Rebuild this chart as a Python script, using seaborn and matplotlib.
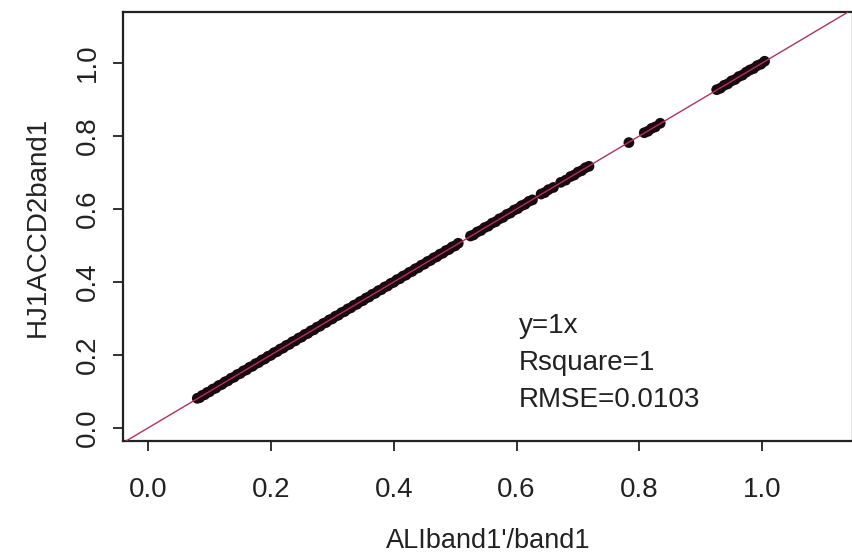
import matplotlib
matplotlib.use("Agg")
import matplotlib.pyplot as plt
import seaborn as sns
import pandas as pd

# ---- data ----
x_vals = [0.080, 0.084, 0.088, 0.092, 0.096, 0.100, 0.105, 0.110, 0.115, 0.120,
          0.125, 0.130, 0.135, 0.140, 0.145, 0.150, 0.155, 0.160, 0.165, 0.170,
          0.175, 0.180, 0.185, 0.190, 0.195, 0.200, 0.205, 0.210, 0.215, 0.220,
          0.225, 0.230, 0.235, 0.240, 0.245, 0.250, 0.255, 0.260, 0.265, 0.270,
          0.275, 0.280, 0.285, 0.290, 0.295, 0.300, 0.305, 0.310, 0.315, 0.320,
          0.325, 0.330, 0.335, 0.340, 0.345, 0.350, 0.355, 0.360, 0.365, 0.370,
          0.375, 0.380, 0.385, 0.390, 0.395, 0.400, 0.405, 0.410, 0.415, 0.420,
          0.425, 0.430, 0.435, 0.440, 0.445, 0.450, 0.455, 0.460, 0.465, 0.470,
          0.475, 0.480, 0.485, 0.490, 0.495, 0.500, 0.505,
          0.525, 0.530, 0.536, 0.542, 0.548, 0.554, 0.560, 0.566,
          0.572, 0.578, 0.584, 0.590, 0.596, 0.602, 0.608, 0.614, 0.620, 0.626,
          0.640, 0.646, 0.652, 0.660, 0.672, 0.680, 0.688, 0.694, 0.700, 0.706,
          0.712, 0.718,
          0.783,
          0.808, 0.814, 0.820, 0.826, 0.834,
          0.926, 0.932, 0.938, 0.944, 0.950, 0.956, 0.962, 0.968, 0.974,
          0.980, 0.986, 0.992, 0.998, 1.004]
y_vals = [0.081, 0.083, 0.089, 0.091, 0.097, 0.099, 0.106, 0.109, 0.116, 0.119,
          0.126, 0.129, 0.136, 0.139, 0.146, 0.149, 0.156, 0.159, 0.166, 0.169,
          0.176, 0.179, 0.186, 0.189, 0.196, 0.199, 0.206, 0.209, 0.216, 0.219,
          0.226, 0.229, 0.236, 0.239, 0.246, 0.249, 0.256, 0.259, 0.266, 0.269,
          0.276, 0.279, 0.286, 0.289, 0.296, 0.299, 0.306, 0.309, 0.316, 0.319,
          0.326, 0.329, 0.336, 0.339, 0.346, 0.349, 0.356, 0.359, 0.366, 0.369,
          0.376, 0.379, 0.386, 0.389, 0.396, 0.399, 0.406, 0.409, 0.416, 0.419,
          0.426, 0.429, 0.436, 0.439, 0.446, 0.449, 0.456, 0.459, 0.466, 0.469,
          0.476, 0.479, 0.486, 0.489, 0.496, 0.499, 0.506,
          0.526, 0.529, 0.537, 0.541, 0.549, 0.553, 0.561, 0.565,
          0.573, 0.577, 0.585, 0.589, 0.597, 0.601, 0.609, 0.613, 0.621, 0.625,
          0.641, 0.645, 0.653, 0.659, 0.673, 0.679, 0.689, 0.693, 0.701, 0.705,
          0.713, 0.717,
          0.782,
          0.809, 0.813, 0.821, 0.825, 0.835,
          0.927, 0.931, 0.939, 0.943, 0.951, 0.955, 0.963, 0.967, 0.975,
          0.981, 0.985, 0.993, 0.997, 1.005]
tick_vals = [0.0, 0.2, 0.4, 0.6, 0.8, 1.0]
tick_labels = ["0.0", "0.2", "0.4", "0.6", "0.8", "1.0"]
fit_slope = 1.0
fit_intercept = 0.0
annot_lines = ["y=1x", "Rsquare=1", "RMSE=0.0103"]
x_label = "ALIband1'/band1"
y_label = "HJ1ACCD2band1"

df = pd.DataFrame({"x": x_vals, "y": y_vals})

sns.set_style("white")
plt.rcParams["font.family"] = ["Liberation Sans", "DejaVu Sans"]

W, H = 852, 557
AX_L, AX_R, AX_T, AX_B = 123, 853, 12, 441
fig = plt.figure(figsize=(W / 100, H / 100), dpi=100)
ax = fig.add_axes([AX_L / W, (H - AX_B) / H, (AX_R - AX_L) / W, (AX_B - AX_T) / H])

sns.scatterplot(data=df, x="x", y="y", ax=ax, s=60, color="#1a0a10",
                edgecolor="none", linewidth=0, zorder=2)
ax.axline((0.0, fit_intercept), slope=fit_slope, color="#b03060", lw=1.0, zorder=3)

ax.set_xlim(-0.041, 1.148)
ax.set_ylim(-0.036, 1.140)
ax.set_xticks(tick_vals)
ax.set_xticklabels(tick_labels)
ax.set_yticks(tick_vals)
ax.set_yticklabels(tick_labels, rotation=90, va="center")

for sp in ax.spines.values():
    sp.set_visible(True)
    sp.set_color("#222222")
    sp.set_linewidth(1.6)

FS = 20
ax.tick_params(axis="both", which="both", direction="out", length=7.2, width=1.3,
               color="#222222", labelsize=FS, labelcolor="#222222",
               bottom=True, left=True)
ax.tick_params(axis="x", pad=19)
ax.tick_params(axis="y", pad=8.6)

ax.set_xlabel(x_label, fontsize=19.5, color="#222222")
ax.set_ylabel(y_label, fontsize=FS, color="#222222")
ax.xaxis.set_label_coords(0.5, -(528 - AX_B) / (AX_B - AX_T))
ax.yaxis.set_label_coords((51 - AX_L) / (AX_R - AX_L), 0.5)

for i, t in enumerate(annot_lines):
    fig.text(519 / W, 1 - (333 + 37 * i) / H, t, fontsize=FS, color="#222222",
             ha="left", va="baseline")

fig.savefig("out.png", dpi=100)
